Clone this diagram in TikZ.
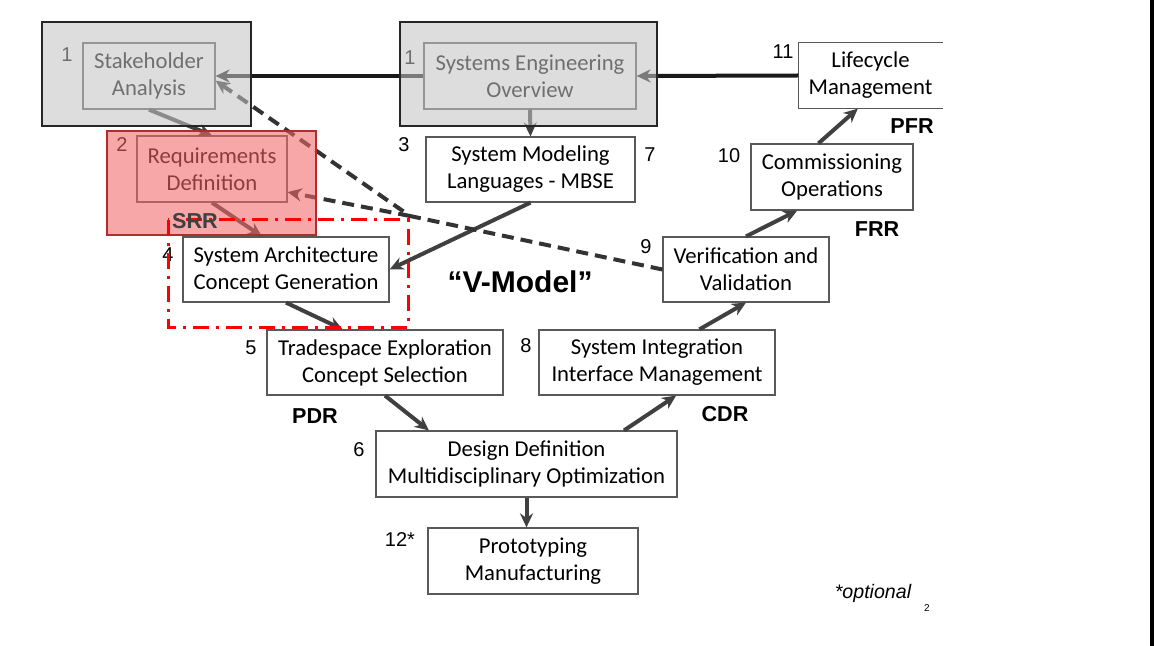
\documentclass[tikz,border=0pt]{standalone}
\usepackage{fontspec}
\setmainfont{Carlito}
\newfontfamily\arialfont{Liberation Sans}
\usepackage{tikz}
\usetikzlibrary{arrows.meta}
\definecolor{hazegray}{gray}{0.77}
\definecolor{hazered}{RGB}{242,104,104}
\definecolor{edgered}{RGB}{175,45,45}
\newcommand{\boxfont}{\fontsize{11.35}{13.5}\selectfont}
\newcommand{\numfont}{\arialfont\fontsize{10}{12}\selectfont}
\newcommand{\gatefont}{\arialfont\bfseries\fontsize{10.8}{13}\selectfont}

\begin{document}
\begin{tikzpicture}[x=0.5pt,y=-0.5pt,
    box/.style={draw=black!65,line width=0.6pt,align=center,inner sep=0pt,font=\boxfont},
    boxsize/.style 2 args={minimum width=#1,minimum height=#2},
    num/.style={font=\numfont,inner sep=0pt},
    gate/.style={font=\gatefont,inner sep=0pt},
    link/.style={draw=black!75,line width=2pt,-{Stealth[length=7pt,width=6.5pt]}},
    bar/.style={draw=black!90,line width=2pt,-{Stealth[length=7pt,width=6.5pt]}},
    dashlink/.style={draw=black!80,line width=2pt,dash pattern=on 6pt off 3.5pt,-{Stealth[length=7pt,width=6.5pt]}}]
              \useasboundingbox (0,0) rectangle (1154,646);
              \fill[white] (0,0) rectangle (1154,646);

              \node[box,boxsize={66pt}{33pt}] (sa) at (149,76) {Stakeholder\\Analysis};
              \node[box,boxsize={106pt}{33pt}] (se) at (530,76) {Systems Engineering\\Overview};
              \node[box,boxsize={75pt}{33pt}] (rd) at (212,169) {Requirements\\Definition};
              \node[box,boxsize={104.5pt}{32.5pt}] (sml) at (530.5,169.5) {System Modeling\\Languages - MBSE};
              \node[box,boxsize={103pt}{32.5pt}] (sac) at (286,269.5) {System Architecture\\Concept Generation};
              \node[box,boxsize={118pt}{32.5pt}] (tse) at (385,362.5) {Tradespace Exploration\\Concept Selection};
              \node[box,boxsize={150.5pt}{33pt}] (dd) at (526.5,464) {Design Definition\\Multidisciplinary Optimization};
              \node[box,boxsize={105pt}{33pt}] (pm) at (533,561) {Prototyping\\Manufacturing};
              \node[box,boxsize={118pt}{32.5pt}] (sii) at (657,362.5) {System Integration\\Interface Management};
              \node[box,boxsize={83pt}{32.5pt}] (vv) at (746,269.5) {Verification and\\Validation};
              \node[box,boxsize={81pt}{33pt}] (co) at (832,177) {Commissioning\\Operations};
              \node[box,draw=none,boxsize={71.5pt}{32.5pt}] (lm) at (870.5,75.5) {Lifecycle\\Management};
              \draw[black!65,line width=0.6pt] (lm.north east) -- (lm.north west) -- (lm.south west) -- (lm.south east);

              \node[num] (n1a) at (67,55) {1};
              \node[num] (n1b) at (410,58) {1};
              \node[num] (n2) at (122,145) {2};
              \node[num] (n3) at (404,145) {3};
              \node[num] (n4) at (168,255) {4};
              \node[num] (n5) at (251,348) {5};
              \node[num] (n6) at (359,450) {6};
              \node[num] (n7) at (650,155) {7};
              \node[num] (n8) at (526,346) {8};
              \node[num] (n9) at (646,247) {9};
              \node[num] (n10) at (729,156) {10};
              \node[num] (n11) at (783,52) {11};
              \node[num] (n12) at (400,540) {12*};

              \draw[bar] (lm.west) -- (se.east);
              \draw[bar] (se.west) -- (sa.east);
              \draw[link] (se.south) -- (sml.north);
              \draw[link] (sml.south) -- (sac.east);
              \draw[link] (sa.south) -- (rd.north);
              \draw[link] (rd.south) -- (sac.126);
              \draw[link] (sac.south) -- (tse.142);
              \draw[link] (tse.south) -- (dd.161);
              \draw[link] (dd.south) -- (dd.south |- pm.north);
              \draw[link] (dd.19) -- (sii.-60);
              \draw[link] (sii.38) -- (vv.south);
              \draw[link] (vv.north) -- (co.224);
              \draw[link] (co.112) -- (lm.249);

              \coordinate (j) at (410,216);
              \draw[dashlink] (vv.west) -- (j) -- (sa.-4);
              \draw[dashlink] (j) -- (rd.-17);

              \draw[draw=black!85,line width=1pt,fill=hazegray,fill opacity=0.57] (42,22) rectangle (251,126);
              \draw[draw=black!85,line width=1pt,fill=hazegray,fill opacity=0.57] (400,22) rectangle (657,126);
              \draw[draw=edgered,line width=0.8pt,fill=hazered,fill opacity=0.58] (107,131) rectangle (316,235);

              \draw[red,line width=1.5pt,dash pattern=on 8pt off 3.5pt on 1.5pt off 3.5pt] (168,220) rectangle (408,327);

              \node[gate,text=black!75] (srr) at (195,221) {SRR};
              \node[gate] (pdr) at (315,416) {PDR};
              \node[gate] (cdr) at (725,414) {CDR};
              \node[gate] (frr) at (877,229) {FRR};
              \node[gate] (pfr) at (912,126) {PFR};
              \node[font=\arialfont\bfseries\fontsize{15}{18}\selectfont] (vm) at (520,282) {“V-Model”};
              \node[font=\arialfont\itshape\fontsize{9.8}{12}\selectfont] (opt) at (873,593) {*optional};
              \node[font=\arialfont\fontsize{5}{6}\selectfont] (pg) at (927,608) {2};

              \fill[black] (1150,0) rectangle (1154,646);
            \end{tikzpicture}
\end{document}
